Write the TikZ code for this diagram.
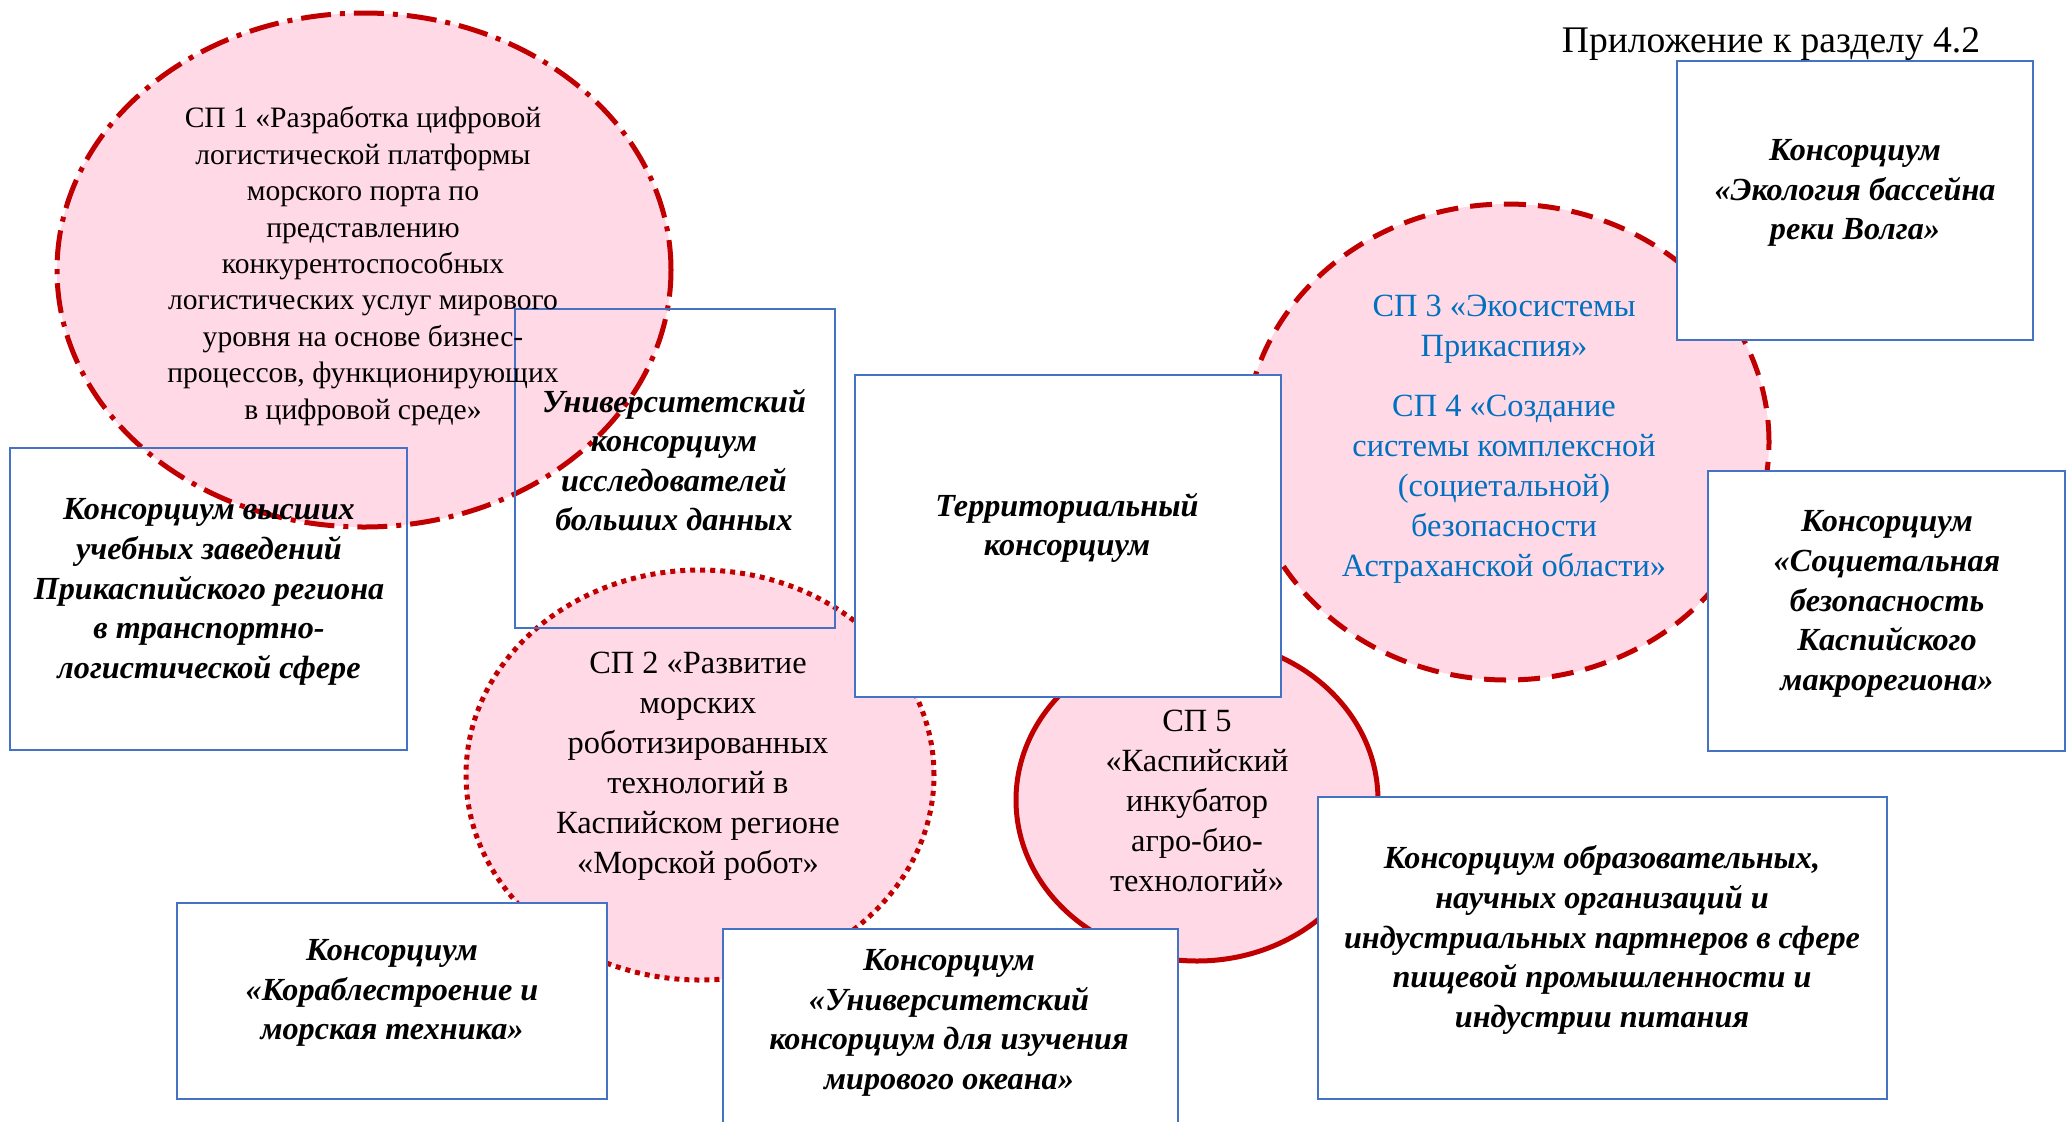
\documentclass[tikz,border=0pt]{standalone}
\usepackage{fontspec}
\setmainfont{Liberation Serif}
\usetikzlibrary{shapes.geometric}
\definecolor{spred}{HTML}{C00000}
\definecolor{sppink}{HTML}{FFD9E6}
\definecolor{boxblue}{HTML}{4472C4}
\definecolor{txtblue}{HTML}{0070C0}
\tikzset{
  spell/.style={ellipse, fill=sppink, draw=spred, line width=2.5pt, inner sep=0pt},
  dashdotline/.style={dash pattern=on 15pt off 4.5pt on 2.5pt off 4.5pt},
  dashline/.style={dash pattern=on 11pt off 6pt},
  dotline/.style={dash pattern=on 2.5pt off 2.5pt},
  cbox/.style={rectangle, draw=boxblue, line width=1.2pt, inner sep=0pt},
  wbox/.style={cbox, fill=white},
  sptext/.style={align=center, font=\fontsize{14.8}{18.2}\selectfont},
  sptextb/.style={align=center, font=\fontsize{16.2}{20}\selectfont},
  bitext/.style={align=center, font=\fontsize{16.1}{19.8}\selectfont\bfseries\itshape},
}
\begin{document}
\begin{tikzpicture}[x=0.5pt, y=-0.5pt]
\useasboundingbox (0,0) rectangle (2069,1121);
\clip (0,0) rectangle (2069,1121);
% ellipses
\node[spell, dashdotline, minimum width=307pt, minimum height=257pt] (sp1) at (364,270) {};
\node[spell, dotline, minimum width=234pt, minimum height=205pt] (sp2) at (700,775) {};
\node[spell, dashline, minimum width=262pt, minimum height=238pt] (sp34) at (1507,442) {};
\node[spell, minimum width=181pt, minimum height=161pt] (sp5) at (1197,800) {};
% white boxes
\node[wbox, minimum width=213pt, minimum height=161pt] (terr) at (1068,536) {};
\node[wbox, minimum width=178pt, minimum height=139.5pt] (eco) at (1855,200.5) {};
\node[wbox, minimum width=178.5pt, minimum height=140pt] (soc) at (1886.5,611) {};
\node[wbox, minimum width=284.5pt, minimum height=151pt] (food) at (1602.5,948) {};
\node[wbox, minimum width=215pt, minimum height=98pt] (ship) at (392,1001) {};
\node[wbox, minimum width=227.5pt, minimum height=103pt] (ocean) at (950.5,1032) {};
% transparent boxes
\node[cbox, minimum width=198.5pt, minimum height=151pt] (vys) at (208.5,599) {};
\node[cbox, minimum width=160pt, minimum height=159.5pt] (uni) at (675,468.5) {};
% texts
\node[font=\fontsize{18.8}{21}\selectfont] (hdr) at (1771,44) {Приложение к разделу 4.2};
\node[sptext] (sp1t) at (363,266) {СП 1 «Разработка цифровой\\логистической платформы\\морского порта по\\представлению\\конкурентоспособных\\логистических услуг мирового\\уровня на основе бизнес-\\процессов, функционирующих\\в цифровой среде»};
\node[sptextb] (sp2t) at (698,766) {СП 2 «Развитие\\морских\\роботизированных\\технологий в\\Каспийском регионе\\«Морской робот»};
\node[sptextb, text=txtblue] (sp34t) at (1504,439) {СП 3 «Экосистемы\\Прикаспия»\\[10pt]СП 4 «Создание\\системы комплексной\\(социетальной)\\безопасности\\Астраханской области»};
\node[sptextb] (sp5t) at (1197,801) {СП 5\\«Каспийский\\инкубатор\\агро-био-\\технологий»};
\node[bitext] (vyst) at (209,592) {Консорциум высших\\учебных заведений\\Прикаспийского региона\\в транспортно-\\логистической сфере};
\node[bitext] (unit) at (674,460) {Университетский\\консорциум\\исследователей\\больших данных};
\node[bitext] (terrt) at (1067,528) {Территориальный\\консорциум};
\node[bitext] (ecot) at (1855,193) {Консорциум\\«Экология бассейна\\реки Волга»};
\node[bitext] (soct) at (1887,604) {Консорциум\\«Социетальная\\безопасность\\Каспийского\\макрорегиона»};
\node[bitext] (foodt) at (1602,940) {Консорциум образовательных,\\научных организаций и\\индустриальных партнеров в сфере\\пищевой промышленности и\\индустрии питания};
\node[bitext] (shipt) at (392,993) {Консорциум\\«Кораблестроение и\\морская техника»};
\node[bitext] (oceant) at (949,1023) {Консорциум\\«Университетский\\консорциум для изучения\\мирового океана»};
\end{tikzpicture}
\end{document}
